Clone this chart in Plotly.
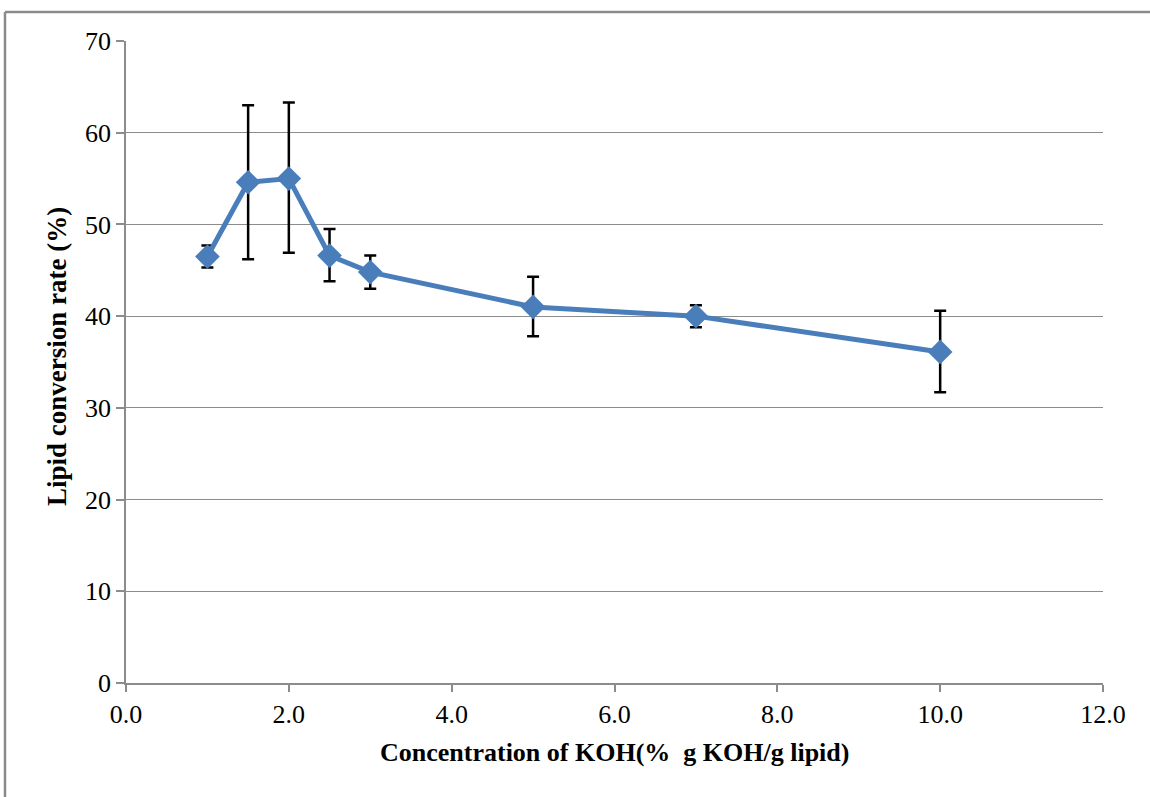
import plotly.graph_objects as go

koh = [1.0, 1.5, 2.0, 2.5, 3.0, 5.0, 7.0, 10.0]
conversion = [46.5, 54.6, 55.0, 46.6, 44.8, 41.0, 40.0, 36.1]
err_plus = [1.2, 8.4, 8.3, 2.9, 1.8, 3.3, 1.2, 4.5]
err_minus = [1.2, 8.4, 8.1, 2.8, 1.8, 3.2, 1.2, 4.4]

x_ticks = [0, 2, 4, 6, 8, 10, 12]
x_tick_text = ["0.0", "2.0", "4.0", "6.0", "8.0", "10.0", "12.0"]
y_ticks = [0, 10, 20, 30, 40, 50, 60, 70]

W, H = 1150, 797
L, R, T, B = 126, 47, 41, 114
pw, ph = W - L - R, H - T - B

def px(x):
    return (x - L) / pw

def py(y):
    return (H - B - y) / ph

fig = go.Figure()
fig.add_trace(go.Scatter(
    x=koh, y=conversion, mode="lines+markers",
    line=dict(color="#4A7EBB", width=5),
    marker=dict(symbol="diamond", size=19, color="#4A7EBB"),
    error_y=dict(type="data", array=err_plus, arrayminus=err_minus,
                 color="black", thickness=2.5, width=6, visible=True),
    showlegend=False,
))

serif = "Liberation Serif, Times New Roman, serif"
grid = "#8C8C8C"
fig.update_layout(
    width=W, height=H,
    margin=dict(l=L, r=R, t=T, b=B),
    paper_bgcolor="white", plot_bgcolor="white",
    font=dict(family=serif, size=22, color="black"),
    xaxis=dict(range=[0, 12], tickvals=x_ticks, ticktext=x_tick_text,
               showgrid=False, zeroline=False, showline=True, linecolor=grid,
               linewidth=1.5, ticks="outside", ticklen=7, tickcolor=grid,
               tickwidth=1.5, tickfont=dict(family=serif, size=26)),
    yaxis=dict(range=[0, 70], tickvals=y_ticks, showgrid=True, gridcolor=grid,
               gridwidth=1.3, zeroline=False, showline=True, linecolor=grid,
               linewidth=1.5, ticks="outside", ticklen=8, tickcolor=grid,
               tickwidth=1.5, tickfont=dict(family=serif, size=26)),
    annotations=[
        dict(text="<b>Concentration of KOH(%  g KOH/g lipid)</b>", xref="paper", yref="paper",
             x=px(614), y=py(753), showarrow=False, xanchor="center", yanchor="middle",
             font=dict(family=serif, size=26)),
        dict(text="<b>Lipid conversion rate (%)</b>", xref="paper", yref="paper",
             x=px(57), y=py(357), showarrow=False, textangle=-90,
             xanchor="center", yanchor="middle", font=dict(family=serif, size=27)),
    ],
    shapes=[
        dict(type="line", xref="paper", yref="paper", x0=px(5), x1=px(1170),
             y0=py(12), y1=py(12), line=dict(color="#8A8A8A", width=2.5)),
        dict(type="line", xref="paper", yref="paper", x0=px(5), x1=px(5),
             y0=py(12), y1=py(820), line=dict(color="#8A8A8A", width=2.5)),
    ],
)

fig.write_html("out.html", config={"displayModeBar": False},
               post_script="document.body.style.margin='0';document.body.style.padding='0';")
